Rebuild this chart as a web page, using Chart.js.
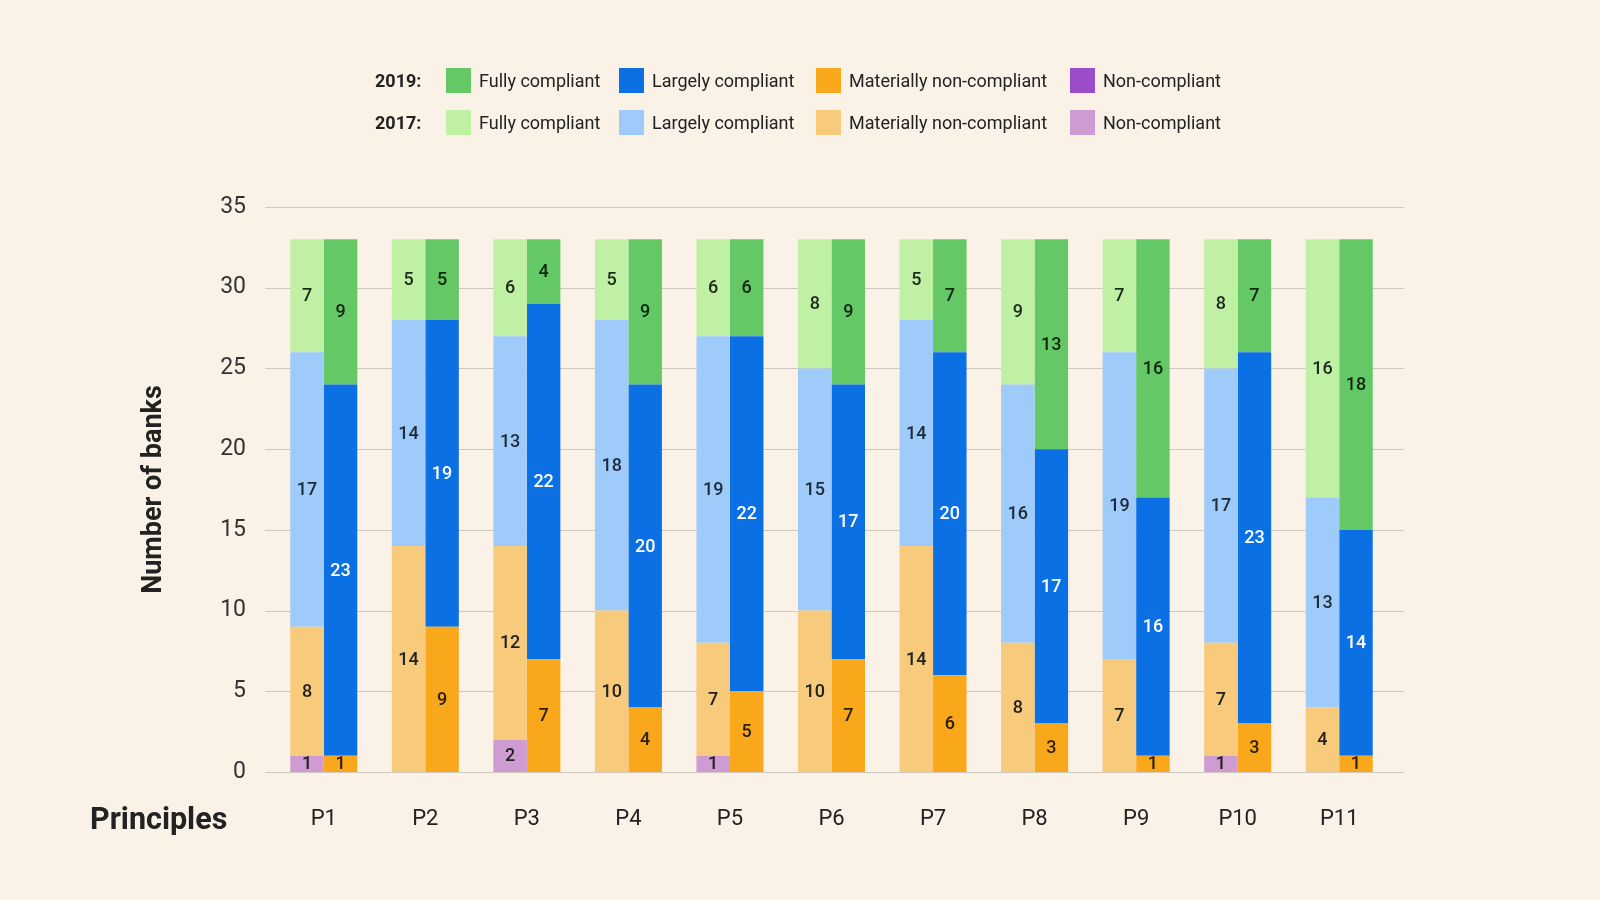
<!DOCTYPE html>
<html>
<head>
<meta charset="utf-8">
<script src="https://cdn.jsdelivr.net/npm/chart.js@4/dist/chart.umd.min.js"></script>
<style>
  html, body { margin: 0; padding: 0; background: #fbf2e7; }
  body { width: 1600px; height: 900px; position: relative; overflow: hidden; font-family: Roboto, "Noto Sans", sans-serif; color: #222; }
  #wrap { position: absolute; left: 0; top: 0; width: 1600px; height: 900px; }
  .year { position: absolute; font-weight: 700; font-size: 18px; }
  .sw { position: absolute; width: 25px; height: 25px; }
  .lt { position: absolute; font-size: 18px; color: #222; }
  #principles { position: absolute; left: 90px; top: 801px; font-size: 30.5px; font-weight: 700; color: #222; }
</style>
</head>
<body>
<div id="wrap"><canvas id="c" width="1600" height="900"></canvas></div>
<div id="legend"></div>
<div id="principles">Principles</div>
<script>
const categories = ["P1","P2","P3","P4","P5","P6","P7","P8","P9","P10","P11"];
const statuses = ["Non-compliant","Materially non-compliant","Largely compliant","Fully compliant"];

// 2017 values
const nc2017  = [1,0,2,0,1,0,0,0,0,1,0];
const mnc2017 = [8,14,12,10,7,10,14,8,7,7,4];
const lc2017  = [17,14,13,18,19,15,14,16,19,17,13];
const fc2017  = [7,5,6,5,6,8,5,9,7,8,16];

// 2019 values
const nc2019  = [0,0,0,0,0,0,0,0,0,0,0];
const mnc2019 = [1,9,7,4,5,7,6,3,1,3,1];
const lc2019  = [23,19,22,20,22,17,20,17,16,23,14];
const fc2019  = [9,5,4,9,6,9,7,13,16,7,18];

const yTicks = [0,5,10,15,20,25,30,35];

const colors2019 = { nc: "#9b4dc9", mnc: "#f9a81b", lc: "#0a70e4", fc: "#63c865" };
const colors2017 = { nc: "#cf9bd3", mnc: "#f7ca7c", lc: "#9ecbfa", fc: "#bff0a4" };

const datasets = [
  { label: "2017 Non-compliant", data: nc2017, backgroundColor: colors2017.nc, stack: "2017", txt: "#222" },
  { label: "2017 Materially non-compliant", data: mnc2017, backgroundColor: colors2017.mnc, stack: "2017", txt: "#222" },
  { label: "2017 Largely compliant", data: lc2017, backgroundColor: colors2017.lc, stack: "2017", txt: "#1d2a3a" },
  { label: "2017 Fully compliant", data: fc2017, backgroundColor: colors2017.fc, stack: "2017", txt: "#1e2a1e" },
  { label: "2019 Non-compliant", data: nc2019, backgroundColor: colors2019.nc, stack: "2019", txt: "#222" },
  { label: "2019 Materially non-compliant", data: mnc2019, backgroundColor: colors2019.mnc, stack: "2019", txt: "#2a1e05" },
  { label: "2019 Largely compliant", data: lc2019, backgroundColor: colors2019.lc, stack: "2019", txt: "#ffffff" },
  { label: "2019 Fully compliant", data: fc2019, backgroundColor: colors2019.fc, stack: "2019", txt: "#10260f" }
];

// HTML legend
(function buildLegend(){
  const lg = document.getElementById('legend');
  const rows = [
    { year: "2019:", y: 68, cols: colors2019 },
    { year: "2017:", y: 110, cols: colors2017 }
  ];
  const items = [
    { key: "fc", text: "Fully compliant", sx: 446 },
    { key: "lc", text: "Largely compliant", sx: 619 },
    { key: "mnc", text: "Materially non-compliant", sx: 816 },
    { key: "nc", text: "Non-compliant", sx: 1070 }
  ];
  rows.forEach(r => {
    const y = document.createElement('div');
    y.className = 'year'; y.textContent = r.year;
    y.style.left = '375px'; y.style.top = (r.y + 2) + 'px';
    lg.appendChild(y);
    items.forEach(it => {
      const s = document.createElement('div');
      s.className = 'sw'; s.style.left = it.sx + 'px'; s.style.top = r.y + 'px';
      s.style.background = r.cols[it.key];
      lg.appendChild(s);
      const t = document.createElement('div');
      t.className = 'lt'; t.textContent = it.text;
      t.style.left = (it.sx + 33) + 'px'; t.style.top = (r.y + 2) + 'px';
      lg.appendChild(t);
    });
  });
})();

const gridPlugin = {
  id: 'extGrid',
  beforeDatasetsDraw(chart) {
    const ctx = chart.ctx, y = chart.scales.y;
    ctx.save();
    ctx.strokeStyle = '#cfc8bf';
    ctx.lineWidth = 1;
    yTicks.forEach(v => {
      const py = Math.round(y.getPixelForValue(v)) + 0.5;
      ctx.beginPath(); ctx.moveTo(265, py); ctx.lineTo(1404, py); ctx.stroke();
    });
    ctx.restore();
  }
};

const labelPlugin = {
  id: 'segLabels',
  afterDatasetsDraw(chart) {
    const ctx = chart.ctx;
    ctx.save();
    ctx.font = '500 18px Roboto, "Noto Sans", sans-serif';
    ctx.textAlign = 'center';
    ctx.textBaseline = 'middle';
    chart.data.datasets.forEach((ds, di) => {
      const meta = chart.getDatasetMeta(di);
      meta.data.forEach((el, i) => {
        const v = ds.data[i];
        if (!v) return;
        const { x, y, base } = el.getProps(['x','y','base'], true);
        ctx.fillStyle = ds.txt;
        ctx.fillText(String(v), x, (y + base) / 2 + 1);
      });
    });
    ctx.restore();
  }
};

new Chart(document.getElementById('c'), {
  type: 'bar',
  data: { labels: categories, datasets },
  options: {
    responsive: false,
    animation: false,
    layout: { padding: { top: 207, right: 210, bottom: 0, left: 0 } },
    plugins: { legend: { display: false }, tooltip: { enabled: false } },
    datasets: { bar: { categoryPercentage: 0.66, barPercentage: 1.0, borderWidth: 0 } },
    scales: {
      x: {
        stacked: true,
        grid: { display: false },
        border: { display: false },
        ticks: { color: '#222', font: { family: 'Roboto', size: 22 }, padding: 26 },
        afterFit(s) { s.height = 128; }
      },
      y: {
        stacked: true,
        min: 0, max: 35,
        grid: { display: false },
        border: { display: false },
        afterBuildTicks(s) { s.ticks = yTicks.map(v => ({ value: v })); },
        ticks: { color: '#333', font: { family: 'Roboto', size: 23 }, padding: 19 },
        title: { display: true, text: 'Number of banks', color: '#222',
                 font: { family: 'Roboto', size: 27, weight: '700' }, padding: { top: 138, bottom: 0 } },
        afterFit(s) { s.width = 273; }
      }
    }
  },
  plugins: [gridPlugin, labelPlugin]
});
</script>
</body>
</html>
